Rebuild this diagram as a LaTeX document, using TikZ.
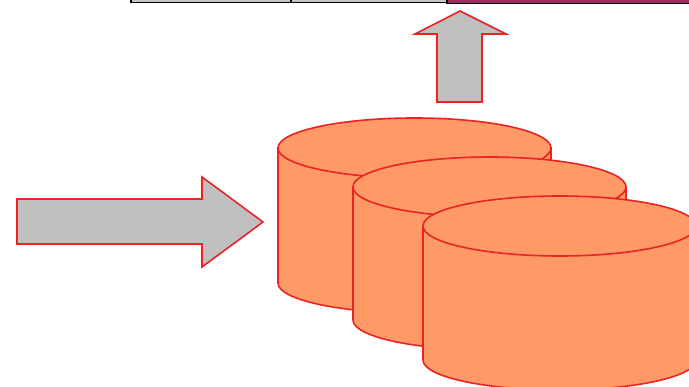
\documentclass[tikz,border=0pt]{standalone}
\usepackage{tikz}
\usetikzlibrary{positioning, calc}

\definecolor{drumfill}{RGB}{255,153,102}
\definecolor{drumline}{RGB}{235,35,35}
\definecolor{blockgray}{RGB}{192,192,192}
\definecolor{plum}{RGB}{153,45,98}

\newcommand{\drum}[3]{%
    \filldraw[drum] ({#1-136.5}, #2) -- ({#1-136.5}, #3)
        arc[start angle=180, end angle=0, x radius=136.5, y radius=30]
        -- ({#1+136.5}, #2) -- cycle;
    \filldraw[drum] (#1, #2) ellipse[x radius=136.5, y radius=30];
}

\begin{document}
\begin{tikzpicture}[
    x=1pt, y=-1pt,
    drum/.style={fill=drumfill, draw=drumline, line width=1.6pt},
    blockarrow/.style={fill=blockgray, draw=drumline, line width=1.6pt, line join=miter},
    cell/.style={draw=black, line width=1.3pt}
]
    \useasboundingbox (0, 0) rectangle (689, 387);
    \clip (0, 0) rectangle (689, 387);

    % Table row cut off at the top
    \filldraw[cell, fill=blockgray!90] (131, -6) rectangle (291, 2.2);
    \filldraw[cell, fill=blockgray!90] (291, -6) rectangle (447, 2.2);
    \filldraw[cell, fill=plum] (447, -6) rectangle (695, 3.4);

    % Input arrow
    \filldraw[blockarrow] (17, 199) -- (202, 199) -- (202, 177) -- (263, 222)
        -- (202, 267) -- (202, 244) -- (17, 244) -- cycle;

    % Output arrow
    \filldraw[blockarrow] (437, 102) -- (437, 34) -- (415, 34) -- (460, 11)
        -- (506, 34) -- (482, 34) -- (482, 102) -- cycle;

    % Drums, back to front
    \drum{414.5}{148}{283}
    \drum{489.5}{187}{320}
    \drum{559.5}{226}{360}

\end{tikzpicture}
\end{document}
